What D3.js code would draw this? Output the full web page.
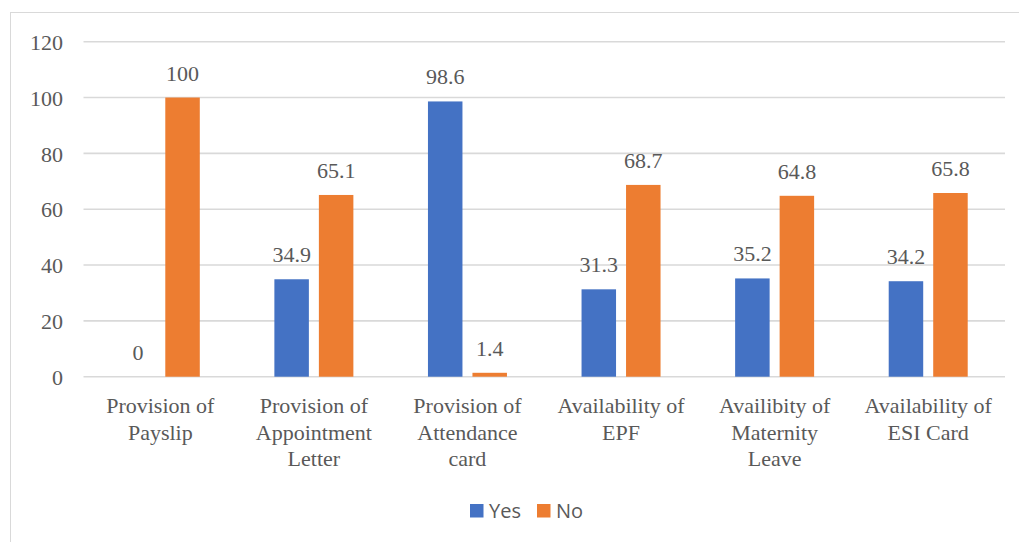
<!DOCTYPE html>
<html>
<head>
<meta charset="utf-8">
<script src="https://cdn.jsdelivr.net/npm/d3@7"></script>
<style>
  html, body { margin: 0; padding: 0; background: #fff; }
  svg { display: block; }
  .serif { font-family: "Liberation Serif", "Times New Roman", Tinos, "DejaVu Serif", serif; font-size: 22px; fill: #595959; }
  .sans { font-family: "Open Sans", "Liberation Sans", sans-serif; font-size: 20px; fill: #595959; }
</style>
</head>
<body>
<svg id="chart" width="1019" height="542"></svg>
<script>
// Category labels (each entry is split into display lines)
const categories = [
  ["Provision of", "Payslip"],
  ["Provision of", "Appointment", "Letter"],
  ["Provision of", "Attendance", "card"],
  ["Availability of", "EPF"],
  ["Availibity of", "Maternity", "Leave"],
  ["Availability of", "ESI Card"]
];
const seriesNames = ["Yes", "No"];
const yesValues = [0, 34.9, 98.6, 31.3, 35.2, 34.2];
const noValues = [100, 65.1, 1.4, 68.7, 64.8, 65.8];
const yTicks = [0, 20, 40, 60, 80, 100, 120];
const colors = ["#4472C4", "#ED7D31"];

const svg = d3.select("#chart");

// outer chart frame
svg.append("rect")
  .attr("x", 10.5).attr("y", 12.5)
  .attr("width", 1030).attr("height", 560)
  .attr("fill", "none").attr("stroke", "#d9d9d9").attr("stroke-width", 1);

const plot = { left: 83.5, right: 1005, top: 41.7, bottom: 376.7 };

const y = d3.scaleLinear().domain([0, 120]).range([plot.bottom, plot.top]);
const x0 = d3.scaleBand().domain(d3.range(categories.length))
  .range([plot.left, plot.right]).paddingInner(0).paddingOuter(0);

// gridlines
svg.append("g").selectAll("line").data(yTicks).join("line")
  .attr("x1", plot.left).attr("x2", plot.right)
  .attr("y1", d => y(d)).attr("y2", d => y(d))
  .attr("stroke", "#d9d9d9").attr("stroke-width", 1.6);

// y-axis tick labels
const yAxis = d3.axisLeft(y).tickValues(yTicks).tickSize(0).tickPadding(0);
const yg = svg.append("g").attr("transform", `translate(63,0)`).call(yAxis)
  .attr("font-family", null).attr("font-size", null);
yg.select(".domain").remove();
yg.selectAll("text")
  .attr("class", "serif")
  .attr("fill", null)
  .attr("dy", "0.35em");

// grouped bars
const barW = 34.5, gap = 10;
const rows = yesValues.map((v, i) => ({ i, vals: [v, noValues[i]] }));
const groups = svg.append("g").selectAll("g").data(rows).join("g")
  .attr("transform", d => `translate(${x0(d.i) + x0.bandwidth() / 2},0)`);

groups.each(function(d) {
  const g = d3.select(this);
  d.vals.forEach((v, s) => {
    const bx = s === 0 ? -gap / 2 - barW : gap / 2;
    g.append("rect")
      .attr("x", bx).attr("y", y(v))
      .attr("width", barW).attr("height", y(0) - y(v))
      .attr("fill", colors[s]);
    g.append("text")
      .attr("class", "serif")
      .attr("x", bx + barW / 2).attr("y", y(v) - 17)
      .attr("text-anchor", "middle")
      .text(v);
  });
});

// category labels
const xl = svg.append("g").selectAll("text").data(categories).join("text")
  .attr("class", "serif")
  .attr("x", (d, i) => x0(i) + x0.bandwidth() / 2)
  .attr("y", 413)
  .attr("text-anchor", "middle");
xl.selectAll("tspan").data(d => d).join("tspan")
  .attr("x", function() { return d3.select(this.parentNode).attr("x"); })
  .attr("dy", (d, j) => j === 0 ? 0 : 26.5)
  .text(d => d);

// legend
const legend = svg.append("g");
const legendItems = [{ x: 470, name: seriesNames[0], c: colors[0] }, { x: 537, name: seriesNames[1], c: colors[1] }];
legendItems.forEach(it => {
  legend.append("rect").attr("x", it.x).attr("y", 504).attr("width", 13.5).attr("height", 13.5).attr("fill", it.c);
  legend.append("text").attr("class", "sans").attr("x", it.x + 19).attr("y", 518)
    .text(it.name);
});
</script>
</body>
</html>
